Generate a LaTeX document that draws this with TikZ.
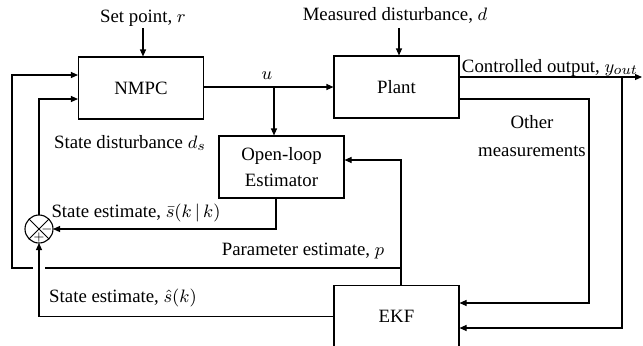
\documentclass[tikz,border=0pt]{standalone}
\usepackage{fontspec}
\setmainfont{Liberation Serif}
\usetikzlibrary{positioning, arrows.meta, calc}

\begin{document}
\begin{tikzpicture}[x=0.5pt, y=-0.5pt, >={Triangle[length=3.5pt,width=3pt]},
  block/.style={draw, line width=0.55pt, minimum width=62.5pt, minimum height=31pt, inner sep=0pt},
  sig/.style={line width=0.55pt},
  lbl/.style={inner sep=0pt, font=\fontsize{9.4}{11}\selectfont}]

\useasboundingbox (0,0) rectangle (643,345);

% blocks
\node[block, lbl] (nmpc) at (141,88) {NMPC};
\node[block, lbl] (plant) at (396.5,87) {Plant};
\node[block, lbl, align=center] (ole) at (281.5,167) {Open-loop\\[2pt]Estimator};
\node[block, lbl] (ekf) at (396.5,316.5) {EKF};
\coordinate (sum) at (39,229);
\draw[sig] (sum) circle[radius=7pt];
\draw[line width=0.4pt] ($(sum)+(-10,-10)$) -- ($(sum)+(10,10)$);
\draw[line width=0.4pt] ($(sum)+(-10,10)$) -- ($(sum)+(10,-10)$);
\node[lbl, font=\fontsize{6}{6}\selectfont] (minus) at ($(sum)+(8,0)$) {$-$};
\node[lbl, font=\fontsize{6}{6}\selectfont] (plus) at ($(sum)+(0,8)$) {$+$};
\coordinate (sumn) at (39,215);
\coordinate (sume) at (53,229);
\coordinate (sums) at (39,243);

% labels
\node[lbl] (setpt) at (143,18) {Set point, $r$};
\node[lbl] (mdist) at (395,15) {Measured disturbance, $d$};
\node[lbl] (ulbl) at (267,76) {$u$};
\node[lbl] (ylbl) at (550,68) {Controlled output, $y_{out}$};
\node[lbl, align=center] (other) at (532,136) {Other\\[3pt]measurements};
\node[lbl] (dslbl) at (130,143) {State disturbance $d_s$};
\node[lbl] (sbar) at (136,213) {State estimate, $\bar{s}(k\,|\,k)$};
\node[lbl] (plbl) at (303,251) {Parameter estimate, $p$};
\node[lbl] (shat) at (123,298) {State estimate, $\hat{s}(k)$};

% inputs from top
\draw[sig, ->] (143,28) -- (nmpc.north -| 143,0);
\draw[sig, ->] (399,28) -- (plant.north -| 399,0);

% control signal u
\draw[sig, ->] (nmpc.east |- plant.west) -- (plant.west);
\coordinate (ubr) at (274,87);
\draw[sig, ->] (ubr) -- (ubr |- ole.north);

% plant outputs
\coordinate (yout) at (642,77);
\coordinate (ybr) at (622,77);
\draw[sig, ->] (plant.east |- yout) -- (yout);
\draw[sig, ->] (ybr) |- (ekf.east |- 0,328);
\draw[sig, ->] (plant.east |- 0,99) -| (589,200) |- (ekf.east |- 0,303);

% parameter estimate
\coordinate (pbr) at (401,268);
\draw[sig, ->] (ekf.north -| pbr) |- (ole.east |- 0,160);
\draw[sig, ->] (pbr) -| (12,150) |- (nmpc.west |- 0,75);
\fill[white] (33,265) rectangle (45,271);

% state estimates
\draw[sig, ->] (ole.south -| 276,0) |- (sume);
\draw[sig, ->] (sumn) |- (nmpc.west |- 0,99);
\draw[sig, ->] (ekf.west) -| (sums);

\end{tikzpicture}
\end{document}
